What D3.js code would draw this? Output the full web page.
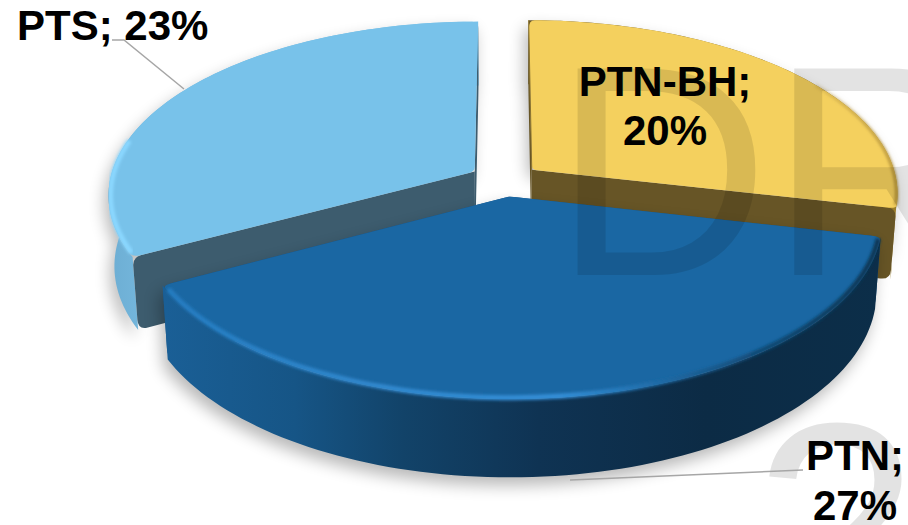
<!DOCTYPE html>
<html><head><meta charset="utf-8">
<script src="https://cdn.jsdelivr.net/npm/d3@7"></script>
<style>html,body{margin:0;padding:0;background:#fff;overflow:hidden}svg{display:block}
text{font-family:"Liberation Sans",Arial,sans-serif}</style></head>
<body><svg id="c" width="908" height="525"></svg>
<script>
const categories = ["PTN-BH", "PTN", "PTS"];
const values = [20, 27, 23];
const topColors = ["#f4d05e", "#1a67a3", "#78c2ea"];
const cutColors = ["#675526", "#14548a", "#3d5c6e"];
const watermark = ["DR", "2"];

const W = 908, H = 525;
const cx = 504.6, cy = 180, R = 365, tilt = 0.47, persp = 0.13, explode = 35, depth = 70, bottomShrink = 0.985;

const svg = d3.select("#c").attr("viewBox", [0, 0, W, H]);
const defs = svg.append("defs");

function hGrad(id, x1, x2, stops) {
  const g = defs.append("linearGradient").attr("id", id).attr("gradientUnits", "userSpaceOnUse")
    .attr("x1", x1).attr("x2", x2).attr("y1", 0).attr("y2", 0);
  stops.forEach(s => g.append("stop").attr("offset", s[0]).attr("stop-color", s[1]).attr("stop-opacity", s[2] === undefined ? 1 : s[2]));
}
hGrad("side0", 530, 900, [[0, "#6b5825"], [0.8, "#7c6426"], [1, "#9c7f2c"]]);
hGrad("side1", 165, 885, [[0, "#1a5f96"], [0.18, "#165586"], [0.33, "#124369"], [0.52, "#0f3353"], [0.75, "#0c2b45"], [1, "#0c2e49"]]);
hGrad("side2", 105, 480, [[0, "#6cadd2"], [0.1, "#74b6dc"], [1, "#78c2ea"]]);
hGrad("rim0", 780, 900, [[0, "#bb9a42", 0], [0.6, "#bb9a42", 0.7], [0.9, "#b8963e", 1], [1, "#a9882f", 1]]);
hGrad("rim1", 165, 885, [[0, "#247cc0"], [0.3, "#3289cf"], [0.55, "#348fd8"], [0.68, "#1f6ca8"], [0.82, "#114a75"], [1, "#0d3552"]]);
hGrad("rim2", 105, 170, [[0, "#8bd8ff"], [0.4, "#8ad7ff"], [0.7, "#85d0f8"], [1, "#78c2ea", 0]]);

const shadow = defs.append("filter").attr("id", "shadow").attr("x", "-15%").attr("y", "-15%").attr("width", "130%").attr("height", "140%");
shadow.append("feGaussianBlur").attr("stdDeviation", 8);
const soft = defs.append("filter").attr("id", "soft").attr("x", "-5%").attr("y", "-5%").attr("width", "110%").attr("height", "110%");
soft.append("feGaussianBlur").attr("stdDeviation", 1.6);

const arcs = d3.pie().sort(null).value(d => d)(values);

function project(a, r, bis, down) {
  const u = r * Math.sin(a) + explode * Math.sin(bis);
  const v = r * Math.cos(a) + explode * Math.cos(bis);
  const s = 1 / (1 + persp * v / R);
  const f = down ? bottomShrink : 1;
  return [cx + u * s * f, cy - v * tilt * s * f + (down ? depth * s : 0)];
}
const line = d3.line();

function rimAngles(a0, a1) { return d3.range(0, 1.0001, 1 / 90).map(t => a0 + (a1 - a0) * t); }

function rounded(points) {
  const p = d3.path(), n = points.length;
  const cut = (a, b, r) => { const d = Math.hypot(b[0] - a[0], b[1] - a[1]), t = Math.min(r / d, 0.5); return [a[0] + (b[0] - a[0]) * t, a[1] + (b[1] - a[1]) * t]; };
  points.forEach((pt, i) => {
    const prev = points[(i + n - 1) % n], next = points[(i + 1) % n], r = pt[2] || 0;
    if (r) {
      const a = cut(pt, prev, r), b = cut(pt, next, r);
      i ? p.lineTo(a[0], a[1]) : p.moveTo(a[0], a[1]);
      p.quadraticCurveTo(pt[0], pt[1], b[0], b[1]);
    } else { i ? p.lineTo(pt[0], pt[1]) : p.moveTo(pt[0], pt[1]); }
  });
  p.closePath();
  return p.toString();
}

function topPath(d) {
  const bis = (d.startAngle + d.endAngle) / 2, step = 2.2 * Math.PI / 180;
  const angs = rimAngles(d.startAngle + step, d.endAngle - step);
  return rounded([
    [...project(0, 0, bis, false), 5],
    [...project(d.startAngle, R, bis, false), 9],
    ...angs.map(a => project(a, R, bis, false)),
    [...project(d.endAngle, R, bis, false), 9]
  ]);
}
function sidePath(d) {
  const bis = (d.startAngle + d.endAngle) / 2;
  const angs = rimAngles(d.startAngle, d.endAngle);
  return line([...angs.map(a => project(a, R, bis, false)), ...angs.slice().reverse().map(a => project(a, R, bis, true))]) + "Z";
}
function cutPath(a, d) {
  const bis = (d.startAngle + d.endAngle) / 2;
  return rounded([
    project(0, 0, bis, false),
    [...project(a, R, bis, false), 9],
    [...project(a, R, bis, true), 10],
    project(0, 0, bis, true)
  ]);
}
function rimPath(d, from, to, inset) {
  const bis = (d.startAngle + d.endAngle) / 2;
  return line(rimAngles(from, to).map(a => project(a, R - inset, bis, false)));
}

const order = [0, 2, 1];
const rimFrom = [Math.PI * 0.32, Math.PI * 0.575, Math.PI * 1.35];
const rimTo = [Math.PI * 0.565, Math.PI * 1.335, Math.PI * 1.56];

order.forEach(i => {
  const d = arcs[i];
  const bis = (d.startAngle + d.endAngle) / 2;
  const g = svg.append("g").attr("class", "slice");
  g.append("path").attr("d", sidePath(d) + topPath(d)).attr("fill", "#000").attr("opacity", 0.28)
    .attr("transform", "translate(-4,8)").attr("filter", "url(#shadow)");
  const drawCuts = () => [d.startAngle, d.endAngle].forEach(a => g.append("path").attr("d", cutPath(a, d)).attr("fill", cutColors[i]));
  if (i === 1) drawCuts();
  g.append("path").attr("d", sidePath(d)).attr("fill", `url(#side${i})`);
  if (i !== 1) drawCuts();
  g.append("path").attr("d", topPath(d)).attr("fill", topColors[i]);
  g.append("path").attr("d", rimPath(d, rimFrom[i], rimTo[i], i === 0 ? 1 : 2)).attr("fill", "none")
    .attr("stroke", `url(#rim${i})`).attr("stroke-width", i === 0 ? 3 : 5).attr("stroke-linecap", "butt").attr("filter", "url(#soft)");
  if (i === 0) g.append("path").attr("d", line([project(d.startAngle, R, bis, false), project(0, 0, bis, false)]))
    .attr("stroke", "#8a7330").attr("stroke-width", 1).attr("fill", "none");
});

const wm = svg.append("g").attr("fill", "#000").attr("fill-opacity", 0.11).attr("font-size", 300).attr("font-weight", 400);
wm.append("text").attr("x", 553).attr("y", 275).text(watermark[0]);
wm.append("text").attr("x", 753).attr("y", 632).text(watermark[1]);

const leader = d3.line();
svg.append("path").attr("d", leader([[112, 40], [124, 40], [184, 89]])).attr("fill", "none").attr("stroke", "#a6a6a6").attr("stroke-width", 1.5);
svg.append("path").attr("d", leader([[803, 470], [570, 480]])).attr("fill", "none").attr("stroke", "#a6a6a6").attr("stroke-width", 1.5);

const labels = svg.append("g").attr("font-size", 42).attr("font-weight", 700).attr("fill", "#000");
labels.append("text").attr("x", 17).attr("y", 40).text(`${categories[2]}; ${values[2]}%`);
labels.append("text").attr("x", 665).attr("y", 96).attr("text-anchor", "middle").text(`${categories[0]};`);
labels.append("text").attr("x", 665).attr("y", 145).attr("text-anchor", "middle").text(`${values[0]}%`);
labels.append("text").attr("x", 855).attr("y", 470).attr("text-anchor", "middle").text(`${categories[1]};`);
labels.append("text").attr("x", 855).attr("y", 520).attr("text-anchor", "middle").text(`${values[1]}%`);
</script></body></html>
